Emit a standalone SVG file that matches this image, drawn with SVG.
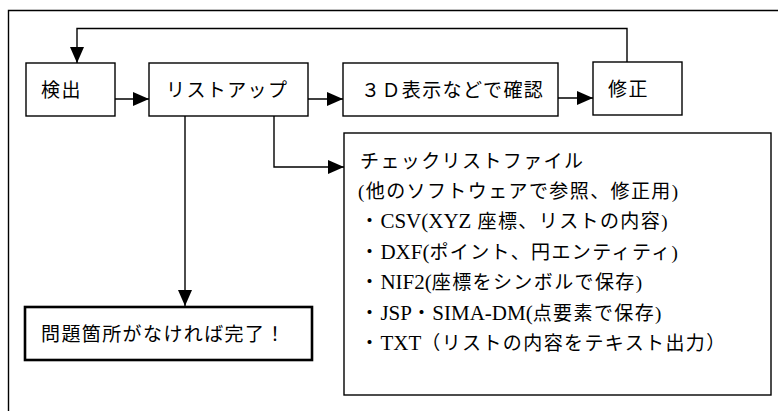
<svg xmlns="http://www.w3.org/2000/svg" width="778" height="411" viewBox="0 0 778 411">
<style>
.box{fill:#fff;stroke:#000;stroke-width:1.4}
.bold{fill:#fff;stroke:#000;stroke-width:2.6}
.ln{fill:none;stroke:#000;stroke-width:1.4}
text{font-family:"Liberation Serif","Noto Sans CJK JP",serif;font-size:19px;fill:#000;letter-spacing:1.4px}
.lat{font-size:21px;letter-spacing:0}
</style>
<defs>
<marker id="ah" markerUnits="userSpaceOnUse" markerWidth="16" markerHeight="14" refX="16" refY="7" orient="auto">
<path d="M0,0 L16,7 L0,14 Z" fill="#000"/>
</marker>
</defs>
<rect x="0" y="0" width="778" height="411" fill="#fff"/>
<path class="ln" d="M8.5,411 V10.5 H778"/>
<g id="connectors">
<path class="ln" d="M627,62 V28.5 H77 V63" marker-end="url(#ah)"/>
<path class="ln" d="M115,99 H149" marker-end="url(#ah)"/>
<path class="ln" d="M308,99 H343" marker-end="url(#ah)"/>
<path class="ln" d="M558,98 H593" marker-end="url(#ah)"/>
<path class="ln" d="M185,116 V306" marker-end="url(#ah)"/>
<path class="ln" d="M274,116 V167 H344" marker-end="url(#ah)"/>
</g>
<g id="n1"><rect class="box" x="26" y="63" width="89" height="53"/><text x="41" y="97">検出</text></g>
<g id="n2"><rect class="box" x="149" y="63" width="159" height="53"/><text x="166" y="97">リストアップ</text></g>
<g id="n3"><rect class="box" x="343" y="63" width="215" height="53"/><text x="361" y="97">３Ｄ表示などで確認</text></g>
<g id="n4"><rect class="box" x="593" y="62" width="89" height="53"/><text x="608" y="96">修正</text></g>
<g id="n5"><rect class="bold" x="25" y="307" width="287" height="53"/><text x="41" y="341">問題箇所がなければ完了！</text></g>
<g id="n6"><rect class="box" x="344" y="133" width="427" height="262"/>
<text x="360" y="168">チェックリストファイル</text>
<text x="358" y="198">(他のソフトウェアで参照、修正用)</text>
<text x="360" y="228">・<tspan class="lat">CSV(XYZ</tspan> 座標、リストの内容)</text>
<text x="360" y="259">・<tspan class="lat">DXF(</tspan>ポイント、円エンティティ)</text>
<text x="360" y="289">・<tspan class="lat">NIF2(</tspan>座標をシンボルで保存)</text>
<text x="360" y="320">・<tspan class="lat">JSP</tspan>・<tspan class="lat">SIMA-DM(</tspan>点要素で保存)</text>
<text x="360" y="350">・<tspan class="lat">TXT</tspan>（リストの内容をテキスト出力）</text>
</g>
</svg>
